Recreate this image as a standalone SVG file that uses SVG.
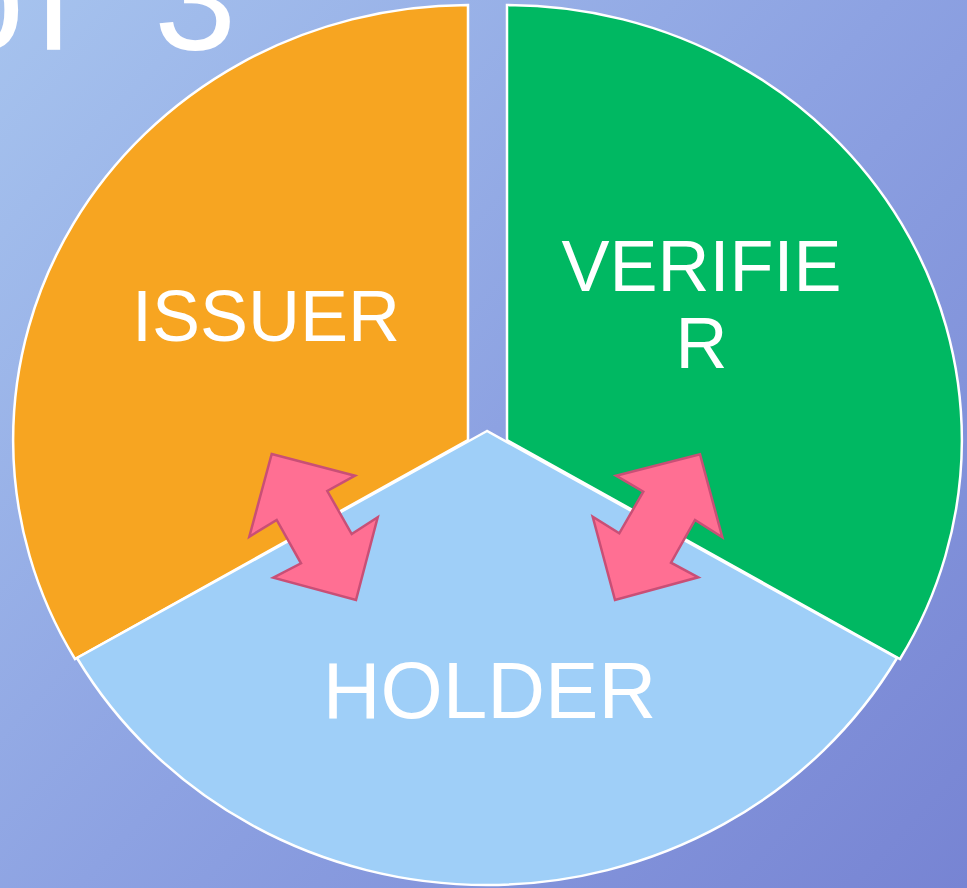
<svg xmlns="http://www.w3.org/2000/svg" width="967" height="888" viewBox="0 0 967 888">
  <defs>
    <linearGradient id="bg" x1="0" y1="0" x2="967" y2="888" gradientUnits="userSpaceOnUse">
      <stop offset="0" stop-color="#A6C3EE"/>
      <stop offset="0.5" stop-color="#8DA2E2"/>
      <stop offset="1" stop-color="#7784D3"/>
    </linearGradient>
    <style>
      .slice { stroke: #FFFFFF; stroke-width: 2.5; stroke-linejoin: miter; }
      .label { font-family: "Liberation Sans", Arial, sans-serif; fill: #FFFFFF; text-anchor: middle; }
      .arrow { fill: #FF6F93; stroke: #C94F76; stroke-width: 2.5; stroke-linejoin: miter; }
    </style>
  </defs>

  <rect x="0" y="0" width="967" height="888" fill="url(#bg)"/>

  <text font-family="Liberation Sans, Arial, sans-serif" font-size="148" fill="#FFFFFF" x="-58 34 75 154" y="50">of 3</text>

  <g id="issuer">
    <path class="slice" fill="#F7A521" d="M468,440 L468,5 A455,435 0 0 0 75,659 Z"/>
    <text class="label" x="266" y="341" font-size="72">ISSUER</text>
  </g>

  <g id="verifier">
    <path class="slice" fill="#00B862" d="M507,440 L507,5 A455,435 0 0 1 900,659 Z"/>
    <text class="label" x="701.5" y="291" font-size="72">VERIFIE</text>
    <text class="label" x="701.5" y="368" font-size="72">R</text>
  </g>

  <g id="holder">
    <path class="slice" fill="#9FCFF8" d="M487,431 L77,658 A473.4,454 0 0 0 897,658 Z"/>
    <text class="label" x="489.5" y="718" font-size="80">HOLDER</text>
  </g>

  <g id="connectors">
    <path class="arrow" d="M271.7,454 L355,475.7 L327.3,491 L351.7,534 L377.7,517.3 L356,600 L273.3,577.7 L301,563.3 L276.7,520 L249.3,536.7 Z"/>
    <path class="arrow" d="M700,454.3 L722.3,537.3 L695,520 L671,562.7 L698.3,577.3 L615,600 L592.7,516.7 L619.3,533.3 L643.3,491.7 L616,475.7 Z"/>
  </g>
</svg>
